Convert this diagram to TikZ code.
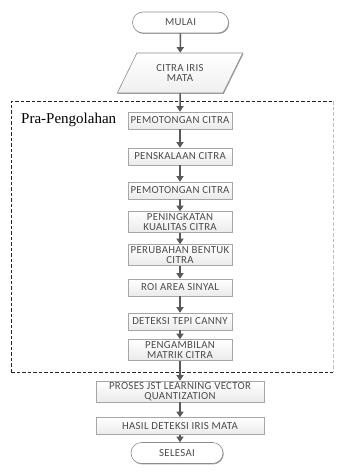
\documentclass[tikz,border=0pt]{standalone}
\usepackage{fontspec}
\setmainfont{Carlito}
\newfontfamily\serifpra{Liberation Serif}
\usetikzlibrary{shapes.geometric,shapes.misc,shadows,arrows.meta}
\begin{document}
\begin{tikzpicture}[x=1pt,y=-1pt]
\tikzset{
  boxshadow/.style={drop shadow={shadow xshift=0.7pt, shadow yshift=-0.9pt, fill=black!55, opacity=0.7}},
  boxfont/.style={font=\fontsize{10.8}{9.6}\selectfont\addfontfeature{LetterSpace=3}},
  procbox/.style={rectangle, draw=black!35, line width=0.6pt, top color=white, bottom color=black!8,
    minimum width=104pt, minimum height=17pt, inner sep=0pt, align=center,
    boxfont, text=black!70, boxshadow},
  twoline/.style={minimum height=21pt},
  term/.style={rounded rectangle, draw=black!45, line width=0.6pt, fill=white, minimum width=96pt,
    minimum height=21pt, inner sep=0pt, boxfont, text=black!70, boxshadow},
  io/.style={trapezium, trapezium left angle=57, trapezium right angle=123, trapezium stretches=true,
    minimum width=126pt, minimum height=40pt, draw=black!45, line width=0.6pt, top color=white, bottom color=black!6,
    inner sep=0pt, align=center, boxfont, text=black!70, boxshadow},
  flow/.style={draw=black!65, line width=1.5pt, -{Triangle[width=7pt,length=5.5pt]}},
  group/.style={draw=black!85, line width=1pt, dash pattern=on 3.5pt off 2pt},
}
\useasboundingbox (0,0) rectangle (337,474);
\fill[white] (0,0) rectangle (337,474);

% group frame
\coordinate (gtl) at (11,101);
\coordinate (gbr) at (333,372);
\draw[group] (gbr -| gtl) -- (gtl) -- (gtl -| gbr);
\draw[group] (gbr -| gtl) -- (gbr);
\draw[group, draw=black!25] (gtl -| gbr) -- (gbr);
\node[anchor=base west, font=\serifpra\fontsize{15}{15}\selectfont, text=black, inner sep=0pt] (pra) at (21,123) {Pra-Pengolahan};

\node[term] (mulai) at (180.5,22.5) {MULAI};
\node[io] (citra) at (180,73) {CITRA IRIS\\MATA};
\node[procbox] (p1) at (180,120.5) {PEMOTONGAN CITRA};
\node[procbox] (p2) at (180,156.5) {PENSKALAAN CITRA};
\node[procbox] (p3) at (180,190.5) {PEMOTONGAN CITRA};
\node[procbox,twoline] (p4) at (180,222) {PENINGKATAN\\KUALITAS CITRA};
\node[procbox,twoline] (p5) at (180,255) {PERUBAHAN BENTUK\\CITRA};
\node[procbox] (p6) at (180,287.5) {ROI AREA SINYAL};
\node[procbox] (p7) at (180,321.5) {DETEKSI TEPI CANNY};
\node[procbox,twoline] (p8) at (180,350) {PENGAMBILAN\\MATRIK CITRA};
\node[procbox,twoline,minimum width=168pt] (p9) at (180,391.5) {PROSES JST LEARNING VECTOR\\QUANTIZATION};
\node[procbox,minimum width=168pt] (p10) at (180,426) {HASIL DETEKSI IRIS MATA};
\node[term,minimum width=92pt] (selesai) at (177,453) {SELESAI};

\draw[flow] (mulai) -- (citra);
\draw[flow] (citra) -- (p1);
\draw[flow] (p1) -- (p2);
\draw[flow] (p2) -- (p3);
\draw[flow] (p3) -- (p4);
\draw[flow] (p4) -- (p5);
\draw[flow] (p5) -- (p6);
\draw[flow] (p6) -- (p7);
\draw[flow] (p7) -- (p8);
\draw[flow] (p8) -- (p9);
\draw[flow] (p9) -- (p10);
\draw[flow] (p10.south) -- (p10.south |- selesai.north);
\end{tikzpicture}
\end{document}
